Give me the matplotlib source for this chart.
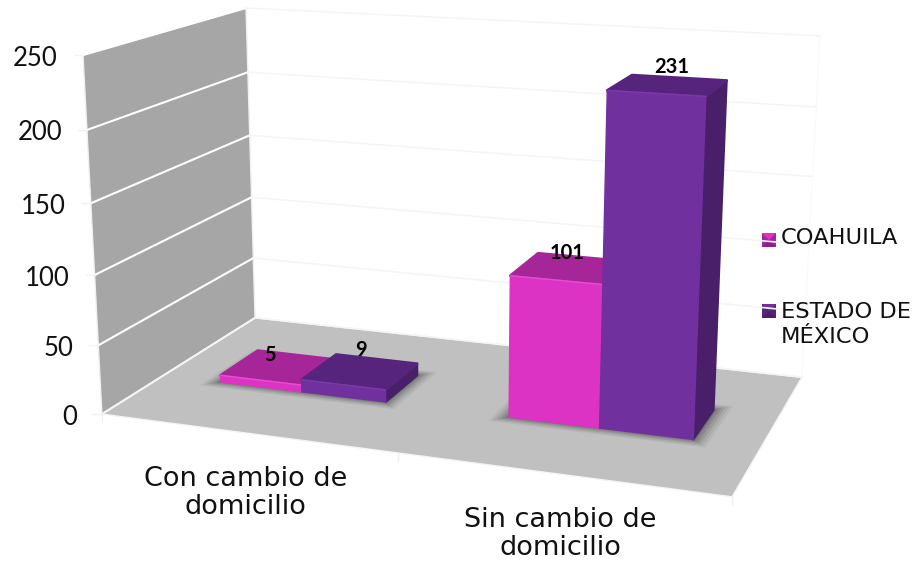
# 3D column chart drawn by hand: a small camera matrix projects the chart box to the page
import numpy as np
import matplotlib
matplotlib.use("Agg")
import matplotlib.pyplot as plt
from matplotlib.patches import Polygon

categories = ["Con cambio de\ndomicilio", "Sin cambio de\ndomicilio"]
seriesNames = ["COAHUILA", "ESTADO DE\nMÉXICO"]
coahuila = [5, 101]
estado = [9, 231]
valueTicks = [0, 50, 100, 150, 200, 250]

plt.rcParams["font.family"] = ["DejaVu Sans"]

# camera calibration: chart box corners (category, depth, value) -> page pixels
boxPoints = [(0, 0, 0), (2, 0, 0), (2, 1, 0), (0, 1, 0), (0, 0, 250), (0, 1, 250), (2, 1, 250)]
pagePoints = [(102, 414), (732, 497), (802, 377), (255, 318), (83, 55), (246, 8), (820, 36)]

rows = []
for (a, b, c), (u, v) in zip(boxPoints, pagePoints):
    rows.append([a, b, c, 1, 0, 0, 0, 0, -u * a, -u * b, -u * c, -u])
    rows.append([0, 0, 0, 0, a, b, c, 1, -v * a, -v * b, -v * c, -v])
cam = np.linalg.svd(np.array(rows, dtype=float))[2][-1].reshape(3, 4)


def project(x, y, z):
    p = cam @ np.array([x, y, z, 1.0])
    return p[0] / p[2], p[1] / p[2]


fig = plt.figure(figsize=(9.16, 5.65), dpi=100)
ax = fig.add_axes([0, 0, 1, 1])
ax.set_xlim(0, 916)
ax.set_ylim(565, 0)
ax.axis("off")

# walls and floor
ax.add_patch(Polygon([project(0, 0, 0), project(0, 1, 0), project(0, 1, 250), project(0, 0, 250)],
                     fc="#a6a6a6", ec="#f0f0f0", lw=1, zorder=1))
ax.add_patch(Polygon([project(0, 0, 0), project(2, 0, 0), project(2, 1, 0), project(0, 1, 0)],
                     fc="#c0c0c0", ec="#f4f4f4", lw=1, zorder=1))
ax.plot(*zip(project(2, 1, 0), project(2, 1, 250)), color="#fbfbfb", lw=1, zorder=1.1)
for v in valueTicks:
    white = "#ffffff" if v > 0 else "#f4f4f4"
    ax.plot(*zip(project(0, 0, v), project(0, 1, v)), color=white, lw=1.5, zorder=1.2)
    ax.plot(*zip(project(0, 1, v), project(2, 1, v)), color="#f5f5f5", lw=1.2, zorder=1.2)
    px, py = project(0, 0, v)
    ax.plot([px - 9, px], [py, py], color="#f2f2f2", lw=1, zorder=1.2)
    ax.text(px - 25, py + 3, str(v), ha="right", va="center", fontsize=18.5, color="#111111",
            family="Lato", zorder=5)

for c in [0, 1, 2]:
    px, py = project(c, 0, 0)
    ax.plot([px, px], [py, py + 8], color="#f0f0f0", lw=1, zorder=1.2)

for c, name in enumerate(categories):
    px, py = project(c + 0.5, 0, 0)
    ax.text(px, py + 60, name, ha="center", va="center", fontsize=19.5, color="#111111",
            linespacing=1.1, zorder=5)

# bar layout inside a category, as fractions of category and depth
gap = 0.21
barWidth = 0.2925
depthFront = 0.37
depthBack = 0.625


def draw_shadow(x0, x1):
    y0, y1 = depthFront, depthBack
    for grow, alpha in [(0.05, 0.07), (0.04, 0.09), (0.03, 0.12), (0.02, 0.16), (0.01, 0.22)]:
        ax.add_patch(Polygon([project(x0 - grow, y0 - grow, 0), project(x1 + grow, y0 - grow, 0),
                              project(x1 + grow, y1 + grow, 0), project(x0 - grow, y1 + grow, 0)],
                             fc="#333333", ec="none", alpha=alpha, zorder=1.5))


def draw_bar(x0, x1, value, front, top, side, edge, order):
    y0, y1 = depthFront, depthBack
    ax.add_patch(Polygon([project(x1, y0, 0), project(x1, y1, 0), project(x1, y1, value), project(x1, y0, value)],
                         fc=side, ec=side, lw=1.5, joinstyle="round", zorder=order))
    ax.add_patch(Polygon([project(x0, y0, value), project(x1, y0, value), project(x1, y1, value), project(x0, y1, value)],
                         fc=top, ec=top, lw=2, joinstyle="round", zorder=order))
    ax.add_patch(Polygon([project(x0, y0, 0), project(x1, y0, 0), project(x1, y0, value), project(x0, y0, value)],
                         fc=front, ec=front, lw=1, joinstyle="round", zorder=order))
    # thin bevel along the front top edge
    ax.plot(*zip(project(x0, y0, value), project(x1, y0, value)), color=edge, lw=1, zorder=order)


pink = ("#dd33c4", "#a6269a", "#8c2085", "#e44fce")
purple = ("#70309e", "#56247c", "#4a1f6a", "#7b3aaa")
labels = []
for c in range(len(categories)):
    left = c + gap
    draw_shadow(left, left + 2 * barWidth)
    draw_bar(left, left + barWidth, coahuila[c], *pink, 2 + c)
    draw_bar(left + barWidth, left + 2 * barWidth, estado[c], *purple, 2.5 + c)
    labels.append((left + barWidth / 2, coahuila[c]))
    labels.append((left + 1.5 * barWidth, estado[c]))

# labels sit over the middle of the top face, nudged by hand
labelShift = [(-9, -12), (1, -22), (-2, -15), (4, -18)]
for (x, value), (dx, dy) in zip(labels, labelShift):
    px, py = project(x, (depthFront + depthBack) / 2, value)
    ax.text(px + dx, py + dy, str(value), ha="center", va="center", fontsize=14.5, fontweight="bold",
            family="Lato", color="black", zorder=6)

# legend with little bevelled squares
swatchX = 762
s = 7
for name, y, textY, colors in [(seriesNames[0], 240, 238, pink), (seriesNames[1], 311, 324.5, purple)]:
    tl, tr, br, bl = (swatchX, y - s), (swatchX + 2 * s, y - s), (swatchX + 2 * s, y + s), (swatchX, y + s)
    mid = (swatchX + s, y)
    ax.add_patch(Polygon([tl, tr, br, bl], fc=colors[1], ec="none"))
    ax.add_patch(Polygon([tl, tr, mid], fc=colors[0], ec="none"))
    ax.add_patch(Polygon([bl, br, mid], fc=colors[2], ec="none"))
    ax.text(swatchX + 19, textY, name, ha="left", va="center", fontsize=16.2, color="#111111", linespacing=1.3)

fig.savefig("out.png", dpi=100)
